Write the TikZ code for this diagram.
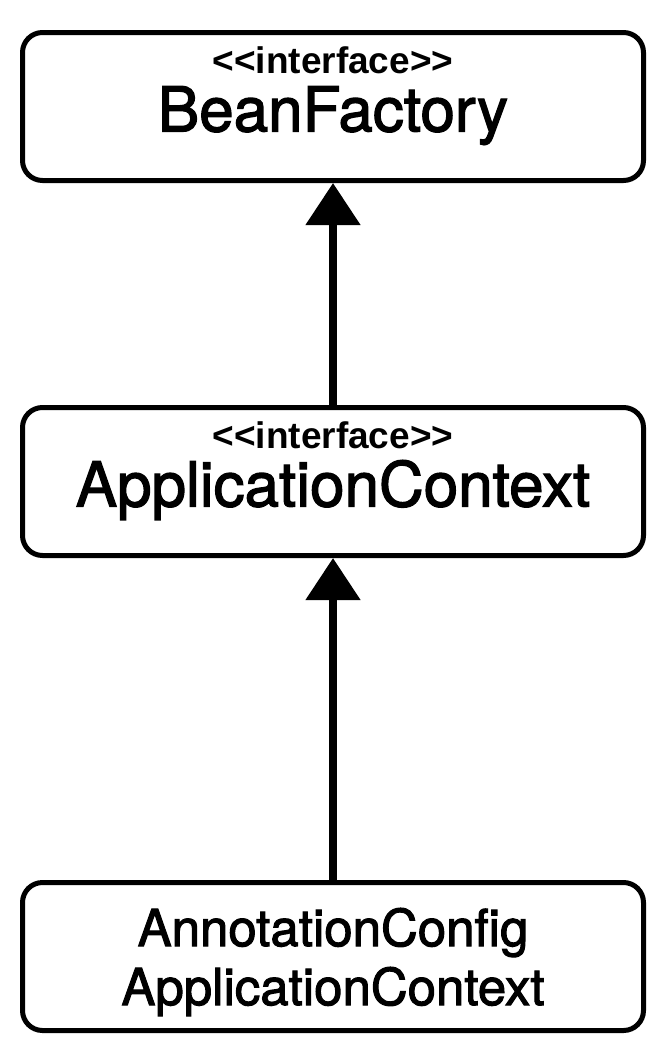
\documentclass[tikz,border=0pt]{standalone}
\usepackage{fontspec}
\setmainfont{TeX Gyre Heros}
\newfontfamily\medfont{TeX Gyre Heros}[FakeBold=2]
\newfontfamily\tagfont{Liberation Sans}
\usetikzlibrary{arrows.meta, positioning}

\newcommand{\stereo}{{\tagfont\fontsize{37}{37}\selectfont\bfseries <\kern0pt<interface>\kern0pt>}}

\begin{document}
\begin{tikzpicture}[
  x=1pt, y=-1pt,
  box/.style={
    draw,
    rectangle,
    rounded corners=20pt,
    line width=5pt,
    align=center,
    minimum width=621pt,
    minimum height=148pt,
    font=\medfont\fontsize{62}{58}\selectfont
  },
  ibox/.style={box, text depth=35pt},
  arrow/.style={-{Triangle[width=53pt,length=42pt]}, line width=8pt}
]
\useasboundingbox (0,0) rectangle (666,1060);

\node[ibox] (bean) at (333,106.5) {\stereo\\BeanFactory};
\node[ibox, below=222pt of bean] (appctx) {\stereo\\ApplicationContext};
\node[box, below=322pt of appctx, text depth=0pt, font=\medfont\fontsize{51}{59}\selectfont] (annot) {AnnotationConfig\\ApplicationContext};

\draw[arrow] (appctx.north) -- (bean.south);
\draw[arrow] (annot.north) -- (appctx.south);

\end{tikzpicture}
\end{document}
